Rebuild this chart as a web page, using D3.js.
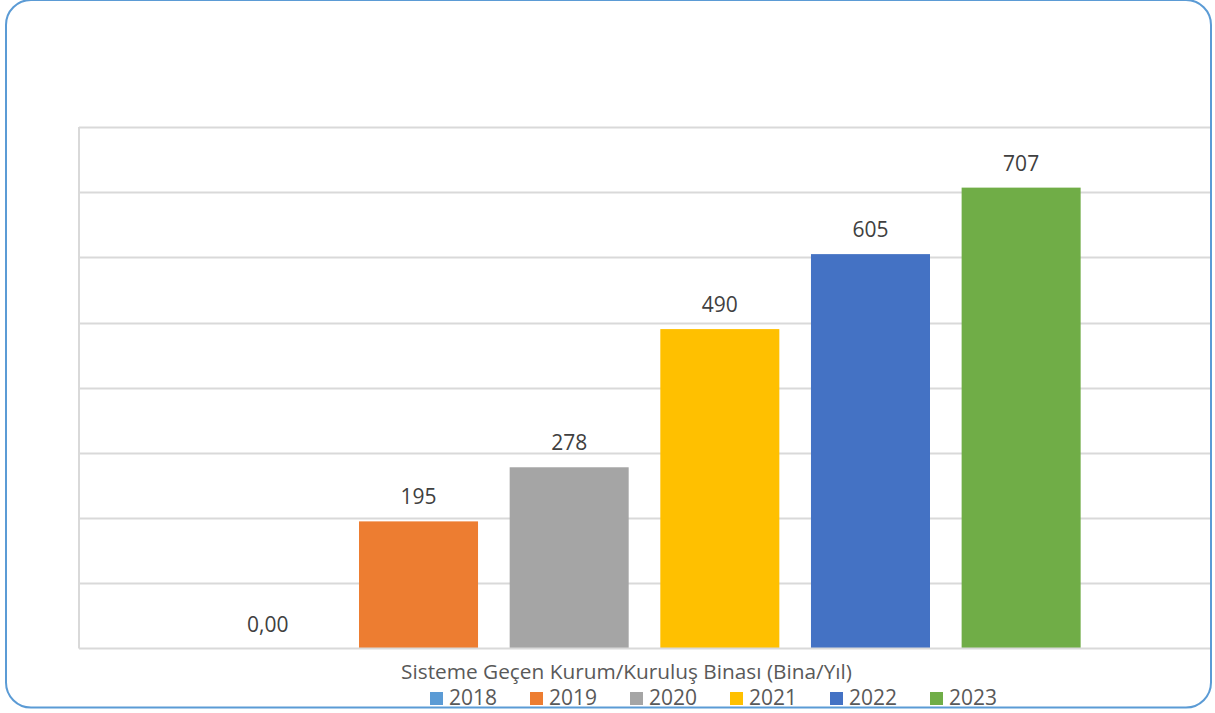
<!DOCTYPE html>
<html>
<head>
<meta charset="utf-8">
<script src="https://cdn.jsdelivr.net/npm/d3@7"></script>
<style>
  html, body { margin: 0; padding: 0; background: #ffffff; }
  svg { display: block; }
  text { font-family: "Open Sans", "Noto Sans", sans-serif; }
</style>
</head>
<body>
<svg id="chart" width="1215" height="713"></svg>
<script>
// Yearly count of institution buildings moved onto the system
const category = "Sisteme Geçen Kurum/Kuruluş Binası (Bina/Yıl)";
const years = ["2018", "2019", "2020", "2021", "2022", "2023"];
const values = [0, 195, 278, 490, 605, 707];
const labels = ["0,00", "195", "278", "490", "605", "707"];
const colors = ["#5B9BD5", "#ED7D31", "#A5A5A5", "#FFC000", "#4472C4", "#70AD47"];
const yTicks = [0, 100, 200, 300, 400, 500, 600, 700, 800];

const svg = d3.select("#chart");

// frame geometry
const frame = { x: 6, y: 0, w: 1205, h: 707.5, r: 25 };
const plot = { left: 79, right: 1210, top: 127, bottom: 648.5 };

svg.append("defs").append("clipPath").attr("id", "frameClip")
  .append("rect")
  .attr("x", frame.x).attr("y", frame.y)
  .attr("width", frame.w).attr("height", frame.h)
  .attr("rx", frame.r).attr("ry", frame.r);

const g = svg.append("g").attr("clip-path", "url(#frameClip)");

const y = d3.scaleLinear().domain([0, 800]).range([plot.bottom, plot.top]);

const xCat = d3.scaleBand().domain([category])
  .range([plot.left, plot.right]).paddingInner(0).paddingOuter(0.1256);
const xYear = d3.scaleBand().domain(years)
  .range([0, xCat.bandwidth()]).paddingInner(0.21).paddingOuter(0.105);

// horizontal gridlines
g.append("g").selectAll("line").data(yTicks.slice(1)).join("line")
  .attr("x1", plot.left).attr("x2", plot.right)
  .attr("y1", d => Math.round(y(d)) + 0.5).attr("y2", d => Math.round(y(d)) + 0.5)
  .attr("stroke", "#d9d9d9").attr("stroke-width", 2);

// bars
const bars = g.append("g").attr("transform", `translate(${xCat(category)},0)`);
bars.selectAll("rect").data(years).join("rect")
  .attr("x", d => xYear(d))
  .attr("width", xYear.bandwidth())
  .attr("y", (d, i) => y(values[i]))
  .attr("height", (d, i) => y(0) - y(values[i]))
  .attr("fill", (d, i) => colors[i]);

// value labels
bars.selectAll("text").data(years).join("text")
  .attr("x", d => xYear(d) + xYear.bandwidth() / 2)
  .attr("y", (d, i) => y(values[i]) - 17)
  .attr("text-anchor", "middle")
  .attr("font-size", 21)
  .attr("fill", "#404040")
  .text((d, i) => labels[i]);

// axes lines
g.append("line")
  .attr("x1", plot.left).attr("x2", plot.left)
  .attr("y1", plot.top).attr("y2", plot.bottom)
  .attr("stroke", "#d9d9d9").attr("stroke-width", 2);
g.append("line")
  .attr("x1", plot.left).attr("x2", plot.right)
  .attr("y1", plot.bottom).attr("y2", plot.bottom)
  .attr("stroke", "#d9d9d9").attr("stroke-width", 2);

// category label
g.append("text")
  .attr("x", 626.5).attr("y", 679)
  .attr("text-anchor", "middle")
  .attr("font-size", 20.8)
  .attr("fill", "#595959")
  .text(category);

// legend
const legend = svg.append("g");
const items = legend.selectAll("g").data(years).join("g")
  .attr("transform", (d, i) => `translate(${430 + i * 100},0)`);
items.append("rect")
  .attr("x", 0).attr("y", 692).attr("width", 13).attr("height", 13)
  .attr("fill", (d, i) => colors[i]);
items.append("text")
  .attr("x", 19).attr("y", 705)
  .attr("font-size", 21)
  .attr("fill", "#595959")
  .text(d => d);

// rounded frame
svg.append("rect")
  .attr("x", frame.x).attr("y", frame.y)
  .attr("width", frame.w).attr("height", frame.h)
  .attr("rx", frame.r).attr("ry", frame.r)
  .attr("fill", "none")
  .attr("stroke", "#5B9BD5").attr("stroke-width", 2);
</script>
</body>
</html>
